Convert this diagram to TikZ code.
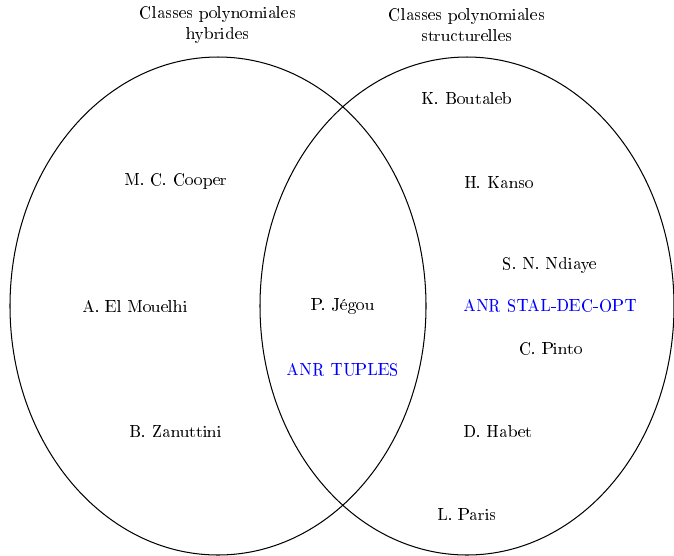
\documentclass[tikz,border=0pt]{standalone}
\usepackage[T1]{fontenc}
\begin{document}
\begin{tikzpicture}[x=0.585pt,y=-0.585pt,
  set/.style={draw=black,line width=0.6pt},
  member/.style={font=\normalsize,inner sep=1pt},
  project/.style={member,text=blue},
  title/.style={align=center,font=\normalsize,inner sep=1pt}]
\useasboundingbox (0,0) rectangle (674,555);
\clip (0,0) rectangle (674,555);
% the two overlapping classes
\draw[set] (218,306) ellipse [x radius=208, y radius=249];
\draw[set] (467,306) ellipse [x radius=207, y radius=249];
% set titles
\node[title] (hyb) at (218,25) {Classes polynomiales\\hybrides};
\node[title] (str) at (467,25) {Classes polynomiales\\structurelles};
% members
\node[member] (boutaleb) at (467,99) {K. Boutaleb};
\node[member] (cooper) at (176,181) {M. C. Cooper};
\node[member] (kanso) at (499,183) {H. Kanso};
\node[member] (ndiaye) at (550,265) {S. N. Ndiaye};
\node[member] (mouelhi) at (135,307) {A. El Mouelhi};
\node[member] (jegou) at (343,306) {P. Jégou};
\node[project] (stal) at (550,306) {ANR STAL-DEC-OPT};
\node[member] (pinto) at (551,349) {C. Pinto};
\node[project] (tuples) at (343,370) {ANR TUPLES};
\node[member] (zanuttini) at (176,432) {B. Zanuttini};
\node[member] (habet) at (498,432) {D. Habet};
\node[member] (paris) at (467,515) {L. Paris};
\end{tikzpicture}
\end{document}
